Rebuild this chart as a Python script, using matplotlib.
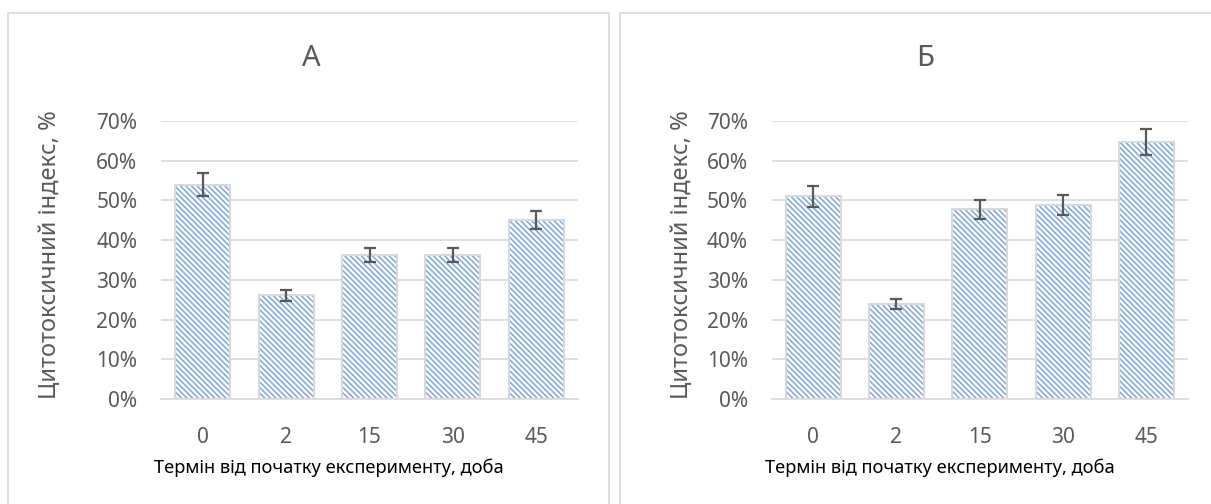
import matplotlib.pyplot as plt
from matplotlib.patches import Rectangle
from matplotlib.ticker import PercentFormatter

plt.rcParams['font.family'] = ['Noto Sans', 'DejaVu Sans']
plt.rcParams['hatch.linewidth'] = 1.1

days = ['0', '2', '15', '30', '45']

# цитотоксичний індекс, %
index_a = [54.0, 26.1, 36.3, 36.3, 45.0]
err_a = [2.8, 1.3, 1.8, 1.8, 2.3]
index_b = [51.0, 24.0, 47.8, 48.9, 64.7]
err_b = [2.6, 1.3, 2.4, 2.5, 3.2]

W, H = 1211, 504
GRID = '#d9d9d9'
TEXT = '#595959'
HATCH = '#7ea7dc'

fig = plt.figure(figsize=(W / 100, H / 100), dpi=100)


def fx(px):
    return px / W


def fy(py):
    return 1 - py / H


def draw_panel(left, plot_left, plot_right, title, title_x, xlab_x, ylab_x, values, errors, frame_right):
    # рамка діаграми
    fig.patches.append(Rectangle((fx(left), -0.1), fx(frame_right - left), fy(13) + 0.1,
                                 transform=fig.transFigure, fill=False, edgecolor=GRID, lw=1.2))
    ax = fig.add_axes([fx(plot_left), fy(399), fx(plot_right - plot_left), fy(121) - fy(399)])
    x = range(len(days))
    ax.bar(x, values, width=0.66, color='white', edgecolor=HATCH, hatch='\\' * 6, lw=0, zorder=2)
    ax.bar(x, values, width=0.66, fill=False, edgecolor=GRID, lw=1.5, zorder=3)
    ax.errorbar(x, values, yerr=errors, fmt='none', ecolor=TEXT, elinewidth=1.6,
                capsize=4.5, capthick=1.6, zorder=4)
    ax.set_ylim(0, 70)
    ax.set_xlim(-0.5, len(days) - 0.5)
    ax.set_yticks(range(0, 71, 10))
    ax.yaxis.set_major_formatter(PercentFormatter(decimals=0))
    ax.set_xticks(list(x))
    ax.set_xticklabels(days)
    ax.grid(axis='y', color=GRID, lw=1.2, zorder=0)
    ax.set_axisbelow(True)
    for s in ['top', 'right', 'left']:
        ax.spines[s].set_visible(False)
    ax.spines['bottom'].set_color(GRID)
    ax.spines['bottom'].set_linewidth(1.2)
    ax.tick_params(length=0, labelsize=15, labelcolor=TEXT)
    ax.tick_params(axis='y', pad=17)
    ax.tick_params(axis='x', pad=20)
    fig.text(fx(title_x), fy(58), title, ha='center', va='center', fontsize=21, color=TEXT)
    fig.text(fx(xlab_x), fy(468), 'Термін від початку експерименту, доба',
             ha='center', va='center', fontsize=13.2, color='black')
    fig.text(fx(ylab_x), fy(255), 'Цитотоксичний індекс, %', ha='center', va='center',
             rotation=90, fontsize=17, color=TEXT)
    return ax


draw_panel(8, 161, 578, 'А', 311, 329, 50, index_a, err_a, 609)
draw_panel(620, 771.5, 1188, 'Б', 925, 940, 682, index_b, err_b, 1240)

fig.savefig('out.png', dpi=100)
